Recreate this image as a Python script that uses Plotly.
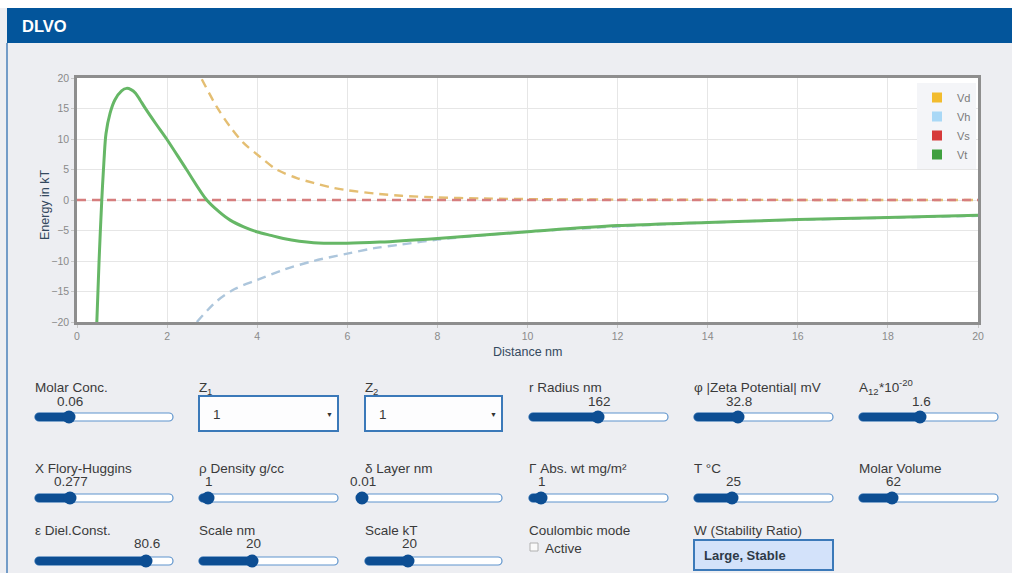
import plotly.graph_objects as go

# ---- DLVO interaction energies (kT) versus separation distance (nm) ----
vd_dist = [2.77, 3.10, 3.40, 3.69, 4.06, 4.43, 4.88, 5.25, 5.62, 6.0, 6.7, 7.2, 7.9,
           9.0, 10.0, 12.0, 14.0, 16.0, 18.0, 20.0]
vd_energy = [19.8, 15.3, 12.0, 9.4, 7.1, 5.0, 3.6, 2.8, 2.1, 1.6, 1.0, 0.7, 0.45,
             0.25, 0.15, 0.06, 0.03, 0.01, 0.0, 0.0]

vh_dist = [2.66, 3.1, 3.5, 4.0, 4.6, 5.25, 6.0, 6.6, 7.2, 8.0, 9.0, 10.0, 12.0,
           14.0, 16.0, 18.0, 20.0]
vh_energy = [-20.0, -16.6, -14.6, -13.1, -11.4, -10.0, -8.8, -7.9, -7.3, -6.5, -5.8,
             -5.2, -4.35, -3.7, -3.25, -2.9, -2.6]

vs_dist = [0.0, 20.0]
vs_energy = [0.0, 0.0]

vt_dist = [0.44, 0.49, 0.55, 0.60, 0.644, 0.733, 0.84, 0.99, 1.10, 1.2, 1.3, 1.4,
           1.51, 1.75, 1.99, 2.43, 2.88, 3.15, 3.40, 3.7, 3.99, 4.3, 4.58, 5.25,
           5.99, 6.73, 8.0, 10.0, 12.0, 14.0, 16.0, 18.0, 20.0]
vt_energy = [-20.0, -10.0, 0.0, 6.6, 10.9, 14.2, 16.4, 17.9, 18.3, 18.1, 17.5, 16.4,
             15.1, 12.5, 10.0, 5.0, 0.0, -1.9, -3.3, -4.4, -5.2, -5.8, -6.3, -7.0,
             -7.1, -6.9, -6.3, -5.2, -4.2, -3.7, -3.2, -2.85, -2.5]

series_names = ["Vd", "Vh", "Vs", "Vt"]
x_ticks = [0, 2, 4, 6, 8, 10, 12, 14, 16, 18, 20]
y_ticks = [-20, -15, -10, -5, 0, 5, 10, 15, 20]

# ---- control panel parameters ----
# labels are lists of (text, baseline offset) pieces; offsets mark sub/superscripts
slider_labels = [[("Molar Conc.", 0)], [("r Radius nm", 0)],
                 [("φ |Zeta Potential| mV", 0)],
                 [("A", 0), ("12", 1), ("*10", 0), ("-20", -1)],
                 [("X Flory-Huggins", 0)], [("ρ Density g/cc", 0)], [("δ Layer nm", 0)],
                 [("Γ Abs. wt mg/m²", 0)], [("T °C", 0)], [("Molar Volume", 0)],
                 [("ε Diel.Const.", 0)], [("Scale nm", 0)], [("Scale kT", 0)]]
slider_values = ["0.06", "162", "32.8", "1.6",
                 "0.277", "1", "0.01", "1", "25", "62",
                 "80.6", "20", "20"]
select_labels = [[("Z", 0), ("1", 1)], [("Z", 0), ("2", 1)]]
select_values = ["1", "1"]
stability_label = "W (Stability Ratio)"
stability_value = "Large, Stable"
coulomb_label = "Coulombic mode"
coulomb_option = "Active"

# ---- page geometry (pixels) ----
W, H = 1012, 573
PLOT_L, PLOT_R, PLOT_T, PLOT_B = 77, 978, 78, 322
FONT = "Liberation Sans, Arial, Helvetica, DejaVu Sans, sans-serif"
LABEL_SIZE = 13.5
SCRIPT_SIZE = 9.5
# approximate advance widths (em) of Liberation Sans glyphs used in scripted labels
GLYPH_EM = {"A": 0.667, "Z": 0.611, "*": 0.389, "-": 0.333,
            "0": 0.556, "1": 0.556, "2": 0.556}


def px(x):
    return x / W


def py(y):
    return 1 - y / H


fig = go.Figure()

line_styles = {
    "Vd": dict(color="#E4BE72", width=2.4, dash="9px,6px"),
    "Vh": dict(color="#ADC6DC", width=2.4, dash="9px,6px"),
    "Vs": dict(color="#D67E7E", width=2.4, dash="9px,6px"),
    "Vt": dict(color="#66B766", width=3),
}
swatch_colors = {"Vd": "#F2BC2E", "Vh": "#A9D8F6", "Vs": "#D63A3A", "Vt": "#3FA03F"}
series_xy = {"Vd": (vd_dist, vd_energy), "Vh": (vh_dist, vh_energy),
             "Vs": (vs_dist, vs_energy), "Vt": (vt_dist, vt_energy)}

for name in series_names:
    xs, ys = series_xy[name]
    fig.add_trace(go.Scatter(
        x=xs, y=ys, mode="lines", name=name, showlegend=False,
        line=dict(shape="spline", smoothing=0.9, **line_styles[name]),
        hoverinfo="x+y+name"))

# square swatches for the legend
for name in series_names:
    fig.add_trace(go.Scatter(
        x=[None], y=[None], mode="markers", name=name,
        marker=dict(symbol="square", size=10, color=swatch_colors[name])))

axis_common = dict(showline=True, mirror=True, linecolor="#8E8E8E", linewidth=2.5,
                   gridcolor="#E6E6E6", gridwidth=1, zeroline=False,
                   ticks="outside", ticklen=3, tickcolor="#C8C8C8",
                   tickfont=dict(family=FONT, size=10.5, color="#8A8A8A"),
                   automargin=False, fixedrange=True)

fig.update_xaxes(domain=[px(PLOT_L), px(PLOT_R)], range=[0, 20], tickvals=x_ticks,
                 **axis_common)
fig.update_yaxes(domain=[py(PLOT_B), py(PLOT_T)], range=[-20, 20], tickvals=y_ticks,
                 **axis_common)

shapes = []
annotations = []


def text(x, y, s, size=LABEL_SIZE, color="#3A3A3A", anchor="left", bold=False, angle=0):
    shift = -2 if anchor == "left" else 0
    annotations.append(dict(
        x=px(x + shift), y=py(y), xref="paper", yref="paper",
        text=f"<b>{s}</b>" if bold else s,
        showarrow=False, xanchor=anchor, yanchor="middle", textangle=angle,
        font=dict(family=FONT, size=size, color=color)))


def rich_label(x, y, pieces):
    # lay out a label whose pieces may sit below (1) or above (-1) the baseline
    cursor = x
    for piece, offset in pieces:
        if offset == 0:
            text(cursor, y, piece)
            size = LABEL_SIZE
        else:
            size = SCRIPT_SIZE
            text(cursor, y + offset * 4.5, piece, size=size)
        cursor += sum(GLYPH_EM.get(ch, 0.556) for ch in piece) * size


def rect(x0, y0, x1, y1, fill, line_color=None, line_width=0):
    shapes.append(dict(type="rect", xref="paper", yref="paper",
                       x0=px(x0), x1=px(x1), y0=py(y1), y1=py(y0),
                       fillcolor=fill,
                       line=dict(color=line_color or fill, width=line_width)))


def pill(x0, x1, yc, h, fill, line_color, line_width):
    # rounded bar built from straight edges and quarter-circle Bezier arcs
    r = h / 2
    k = 0.5523 * r
    top, bot = yc - r, yc + r
    pts = [
        ("M", [(x0 + r, top)]),
        ("L", [(x1 - r, top)]),
        ("C", [(x1 - r + k, top), (x1, yc - k), (x1, yc)]),
        ("C", [(x1, yc + k), (x1 - r + k, bot), (x1 - r, bot)]),
        ("L", [(x0 + r, bot)]),
        ("C", [(x0 + r - k, bot), (x0, yc + k), (x0, yc)]),
        ("C", [(x0, yc - k), (x0 + r - k, top), (x0 + r, top)]),
    ]
    path = ""
    for cmd, coords in pts:
        path += cmd + " ".join(f"{px(a):.6f},{py(b):.6f}" for a, b in coords) + " "
    path += "Z"
    shapes.append(dict(type="path", xref="paper", yref="paper", path=path,
                       fillcolor=fill, line=dict(color=line_color, width=line_width)))


def circle(xc, yc, r, fill):
    shapes.append(dict(type="circle", xref="paper", yref="paper",
                       x0=px(xc - r), x1=px(xc + r), y0=py(yc + r), y1=py(yc - r),
                       fillcolor=fill, line=dict(color=fill, width=0)))


# page chrome: white strip, header bar and panel edge
rect(0, 0, W, 8, "#FFFFFF")
rect(7, 8, W, 43, "#03559B")
shapes.append(dict(type="line", xref="paper", yref="paper", x0=px(7), x1=px(7),
                   y0=py(43), y1=py(H), line=dict(color="#4A80BA", width=1.5)))
text(22, 26, "DLVO", size=16.5, color="#FFFFFF", bold=True)

# axis titles
text((PLOT_L + PLOT_R) / 2 - 0.5, 352, "Distance nm", size=12.5, color="#34495E",
     anchor="center")
text(45, 205, "Energy in kT", size=12.5, color="#34495E", anchor="center", angle=-90)

# slider geometry: (column, row, thumb x)
col_tracks = {1: (35, 173), 2: (199, 338), 3: (365, 502),
              4: (529, 668), 5: (694, 833), 6: (859, 998)}
rows = {1: (387, 401, 417), 2: (468, 481, 498), 3: (530, 543, 561)}
slider_layout = [(1, 1, 69), (4, 1, 598), (5, 1, 738), (6, 1, 920),
                 (1, 2, 70), (2, 2, 208), (3, 2, 362), (4, 2, 541), (5, 2, 732),
                 (6, 2, 892),
                 (1, 3, 146), (2, 3, 252), (3, 3, 408)]

TRACK_EDGE = "#5E94CD"
ACTIVE = "#0D4E93"
for label, value, (col, row, thumb) in zip(slider_labels, slider_values, slider_layout):
    x0, x1 = col_tracks[col]
    ly, vy, ty = rows[row]
    rich_label(x0, ly, label)
    text(thumb + 1, vy, value, anchor="center")
    pill(x0, x1, ty, 8, "#FFFFFF", TRACK_EDGE, 1.2)
    if thumb - x0 > 6:
        pill(x0, thumb, ty, 8, ACTIVE, ACTIVE, 0.5)
    circle(thumb, ty, 6.5, ACTIVE)

# valence selectors
for label, value, col in zip(select_labels, select_values, (2, 3)):
    x0, x1 = col_tracks[col]
    rich_label(x0, 387, label)
    rect(x0, 396, x1, 431, "#FDFDFE", "#3B79B9", 2)
    text(x0 + 14, 414, value)
    text(x1 - 9, 414, "▼", size=7, color="#333333", anchor="center")

# Coulombic mode checkbox
text(529, 530, coulomb_label)
rect(530, 543, 538, 551, "#FAFAFA", "#B0B0B0", 1)
text(545, 548, coulomb_option)

# stability ratio read-out
text(694, 530, stability_label)
rect(694, 540, 833, 570, "#D3E2FA", "#3B79B9", 2)
text(704, 555, stability_value, size=13, color="#2E3A48", bold=True)

fig.update_layout(
    width=W, height=H, autosize=False,
    margin=dict(l=0, r=0, t=0, b=0, pad=0),
    paper_bgcolor="#EDEEF2", plot_bgcolor="#FFFFFF",
    font=dict(family=FONT),
    showlegend=True,
    legend=dict(x=px(PLOT_R - 2), y=py(PLOT_T + 5), xanchor="right", yanchor="top",
                bgcolor="#F4F5F8", borderwidth=0, itemwidth=30, tracegroupgap=0,
                font=dict(family=FONT, size=11, color="#7A7A7A"),
                itemclick=False, itemdoubleclick=False),
    shapes=shapes, annotations=annotations,
    hovermode="closest",
)

fig.write_html("out.html", config={"displayModeBar": False})
